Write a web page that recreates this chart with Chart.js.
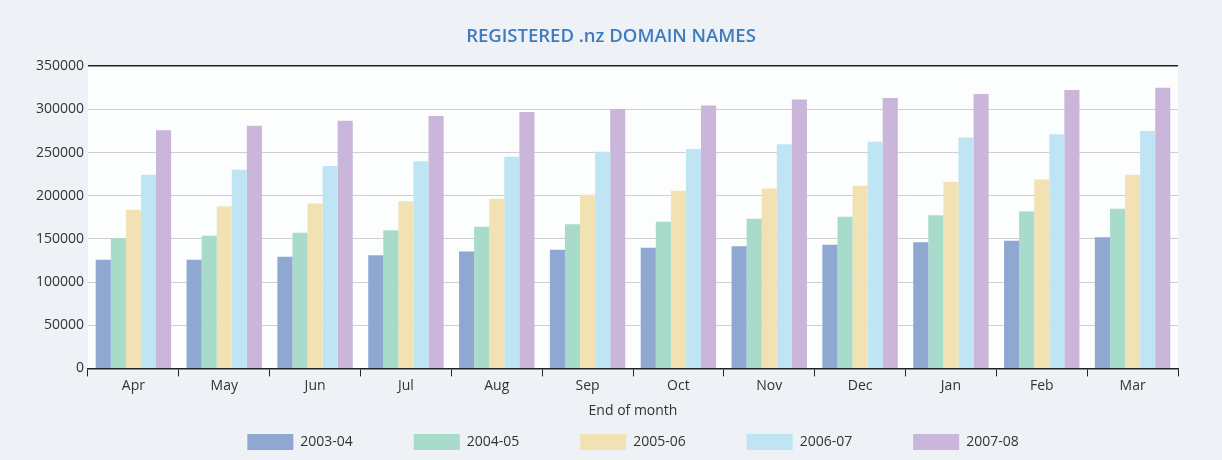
<!DOCTYPE html>
<html>
<head>
<meta charset="utf-8">
<script src="https://cdn.jsdelivr.net/npm/chart.js"></script>
<style>
  html, body { margin: 0; padding: 0; background: #eef1f6; }
  #wrap { width: 1222px; height: 460px; }
</style>
</head>
<body>
<div id="wrap"><canvas id="chart" width="1222" height="460"></canvas></div>
<script>
// 月份（年度截至月末）
const months = ['Apr', 'May', 'Jun', 'Jul', 'Aug', 'Sep', 'Oct', 'Nov', 'Dec', 'Jan', 'Feb', 'Mar'];
const seasons = ['2003-04', '2004-05', '2005-06', '2006-07', '2007-08'];

// 各年度注册域名数量
const y2003 = [125700, 125700, 129200, 131100, 135400, 137300, 139700, 141500, 143100, 146200, 147800, 152000];
const y2004 = [150800, 153600, 157100, 160100, 164000, 167000, 169800, 173300, 175600, 177500, 181800, 184900];
const y2005 = [183700, 187900, 191000, 193700, 196500, 201100, 205800, 208500, 211600, 215800, 218900, 224300];
const y2006 = [224300, 230100, 234300, 239800, 245200, 251000, 254000, 259500, 262600, 267300, 271100, 274900];
const y2007 = [275700, 281100, 286900, 292300, 297000, 300500, 304600, 311500, 313100, 317700, 322300, 325000];

const yTicks = [0, 50000, 100000, 150000, 200000, 250000, 300000, 350000];

const colors = ['#8fa8d2', '#a9dbca', '#f2e2b3', '#bfe4f4', '#c9b6da'];
const seriesValues = [y2003, y2004, y2005, y2006, y2007];

// 背景：画布浅灰蓝，绘图区白色
const bgPlugin = {
    id: 'bg',
    beforeDraw(chart) {
        const { ctx, chartArea } = chart;
        ctx.save();
        ctx.fillStyle = '#eef1f6';
        ctx.fillRect(0, 0, chart.width, chart.height);
        ctx.fillStyle = '#fcfdfd';
        ctx.fillRect(chartArea.left, chartArea.top, chartArea.right - chartArea.left, chartArea.bottom - chartArea.top);
        ctx.restore();
    }
};

const font = 'Open Sans';
// 图例项之间留宽一点（不加纵向间距）
const legendGap = '\u00a0'.repeat(14);

new Chart(document.getElementById('chart'), {
    type: 'bar',
    data: {
        labels: months,
        datasets: seasons.map((s, i) => ({
            label: s,
            data: seriesValues[i],
            backgroundColor: colors[i],
            borderWidth: 0,
            categoryPercentage: 0.83,
            barPercentage: 1.0
        }))
    },
    options: {
        responsive: false,
        animation: false,
        layout: { padding: { left: 0, right: 0, top: 0, bottom: 0 } },
        plugins: {
            title: {
                display: true,
                text: 'REGISTERED .nz DOMAIN NAMES',
                color: '#3d7cbf',
                font: { family: font, size: 18.5, weight: 600 },
                padding: { top: 26, bottom: 18 }
            },
            legend: {
                position: 'bottom',
                fullSize: false,
                labels: {
                    boxWidth: 46,
                    boxHeight: 16,
                    padding: 10,
                    color: '#333',
                    font: { family: font, size: 14 },
                    generateLabels(chart) {
                        const items = Chart.defaults.plugins.legend.labels.generateLabels(chart);
                        items.forEach((it, i) => {
                            if (i < items.length - 1) it.text = it.text + legendGap;
                        });
                        return items;
                    }
                }
            },
            tooltip: { enabled: false }
        },
        scales: {
            x: {
                grid: {
                    offset: true,
                    drawOnChartArea: false,
                    drawTicks: true,
                    tickLength: 8,
                    color: '#222'
                },
                border: { display: true, color: '#222', width: 1.5 },
                ticks: {
                    color: '#333',
                    padding: 1,
                    font: { family: font, size: 14 }
                },
                title: {
                    display: true,
                    text: 'End of month',
                    color: '#333',
                    font: { family: font, size: 14 },
                    padding: { top: 7, bottom: 5 }
                }
            },
            y: {
                min: 0,
                max: 350000,
                afterBuildTicks(scale) {
                    scale.ticks = yTicks.map(v => ({ value: v }));
                },
                afterFit(scale) { scale.width = 88; },
                grid: {
                    drawTicks: false,
                    color: ctx => ctx.tick && ctx.tick.value === 350000 ? '#222' : '#cfcfcf',
                    lineWidth: ctx => ctx.tick && ctx.tick.value === 350000 ? 1.5 : 1
                },
                border: { display: false },
                ticks: {
                    color: '#333',
                    padding: 4,
                    font: { family: font, size: 14 },
                    callback: v => String(v)
                }
            },
            // 右侧留白用的空轴
            yRight: {
                position: 'right',
                min: 0,
                max: 350000,
                grid: { display: false },
                border: { display: false },
                ticks: { display: false },
                afterFit(scale) { scale.width = 44; }
            }
        }
    },
    plugins: [bgPlugin]
});
</script>
</body>
</html>
